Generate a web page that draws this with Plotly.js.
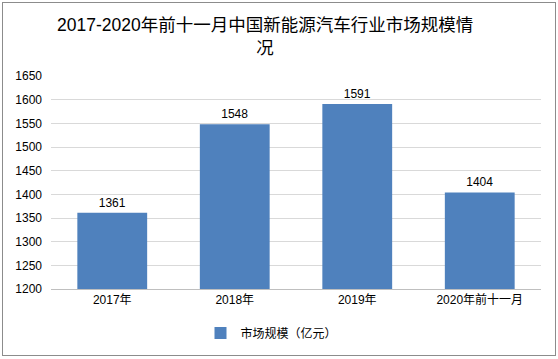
<!DOCTYPE html>
<html><head><meta charset="utf-8">
<script src="https://cdn.plot.ly/plotly-3.0.1.min.js"></script>
<style>html,body{margin:0;padding:0;background:#fff;}#wrap{position:relative;width:558px;height:359px;}#chart{width:558px;height:359px;}#frame{position:absolute;left:2px;top:2px;width:552px;height:352px;border:1px solid #8c8c8c;pointer-events:none;}</style>
</head><body><div id="wrap"><div id="chart"></div><div id="frame"></div></div>
<script>
var categories = ["2017年", "2018年", "2019年", "2020年前十一月"];
var marketSize = [1361, 1548, 1591, 1404];
var seriesName = "市场规模（亿元）";
var yTicks = [1200, 1250, 1300, 1350, 1400, 1450, 1500, 1550, 1600, 1650];
var F = '"Liberation Sans", "Noto Sans CJK SC", sans-serif';
Plotly.newPlot('chart', [{
  type: 'bar', x: categories, y: marketSize, name: seriesName,
  marker: {color: '#4f81bd'},
  text: marketSize.map(String), textposition: 'outside', cliponaxis: false,
  textfont: {family: F, size: 12, color: '#000'}
}], {
  width: 558, height: 359,
  margin: {l: 51, r: 17, t: 76, b: 70},
  paper_bgcolor: '#fff', plot_bgcolor: '#fff',
  annotations: [{text: '2017-2020年前十一月中国新能源汽车行业市场规模情<br>况', font: {family: F, size: 17.5, color: '#000'}, xref: 'paper', yref: 'paper', x: 0.437, xanchor: 'center', y: 1 + 63/213, yanchor: 'top', showarrow: false}],
  bargap: 0.43,
  showlegend: true,
  legend: {orientation: 'h', x: 0.45, xanchor: 'center', yref: 'container', y: 26/359, yanchor: 'middle', itemwidth: 30, font: {family: F, size: 12, color: '#000'}},
  xaxis: {tickfont: {family: F, size: 12, color: '#000'}, showline: true, linecolor: '#bfbfbf', ticks: '', automargin: false},
  yaxis: {range: [1200, 1650], tickvals: yTicks, tickfont: {family: F, size: 12, color: '#000'}, gridcolor: '#d9d9d9', zeroline: false, ticks: '', ticklabelstandoff: 8, automargin: false}
}, {displayModeBar: false, staticPlot: true});
</script></body></html>
